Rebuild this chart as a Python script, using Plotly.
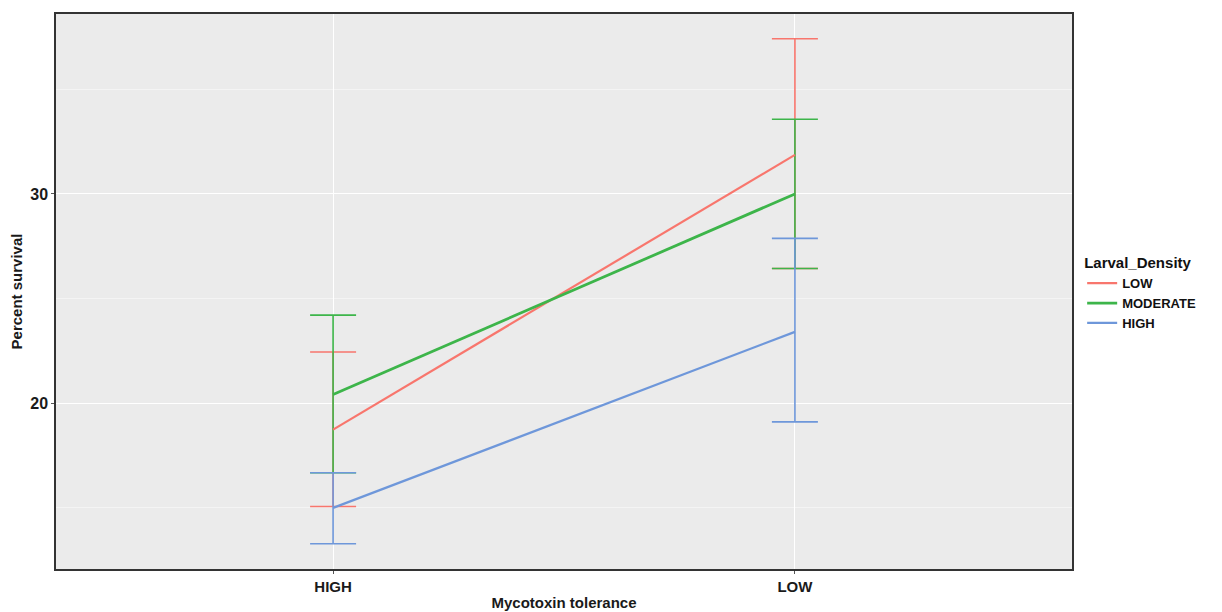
import plotly.graph_objects as go

categories = ["HIGH", "LOW"]
groups = ["LOW", "MODERATE", "HIGH"]
means = {
    "LOW": [18.74, 31.87],
    "MODERATE": [20.42, 30.00],
    "HIGH": [15.00, 23.41],
}
upper = {
    "LOW": [22.45, 37.42],
    "MODERATE": [24.21, 33.57],
    "HIGH": [16.68, 27.88],
}
lower = {
    "LOW": [15.07, 26.44],
    "MODERATE": [16.68, 26.44],
    "HIGH": [13.29, 19.11],
}
colors = {"LOW": "#F8766D", "MODERATE": "#3DB54A", "HIGH": "#6E97DA"}
widths = {"LOW": 2.2, "MODERATE": 2.8, "HIGH": 2.2}

xpos = [1, 2]
fig = go.Figure()

for g in groups:
    m = means[g]
    fig.add_trace(go.Scatter(
        x=xpos, y=m, mode="markers", showlegend=False, hoverinfo="skip",
        marker=dict(size=1, opacity=0),
        error_y=dict(type="data", symmetric=False,
                     array=[u - v for u, v in zip(upper[g], m)],
                     arrayminus=[v - l for v, l in zip(m, lower[g])],
                     color=colors[g], thickness=1.6, width=23),
    ))

for g in groups:
    fig.add_trace(go.Scatter(
        x=xpos, y=means[g], mode="lines", name="<b>%s</b>" % g,
        line=dict(color=colors[g], width=widths[g]),
    ))

font_family = "Liberation Sans, Arial, sans-serif"

fig.update_layout(
    width=1222, height=612,
    margin=dict(l=56, r=150, t=14, b=43),
    paper_bgcolor="white",
    plot_bgcolor="#EBEBEB",
    font=dict(family=font_family, color="#1a1a1a"),
    legend=dict(
        title=dict(text="<b>Larval_Density</b>", font=dict(size=15, color="#111")),
        font=dict(size=13, color="#111"),
        x=1.01, xanchor="left", y=0.496, yanchor="middle",
        bgcolor="rgba(0,0,0,0)", tracegroupgap=0, itemwidth=30,
    ),
    xaxis=dict(
        range=[0.4, 2.6], tickvals=xpos, ticktext=["<b>%s</b>" % c for c in categories],
        tickfont=dict(size=15, color="#1a1a1a"), automargin=False,
        showgrid=True, gridcolor="white", gridwidth=1.2,
        zeroline=False, ticks="outside", ticklen=3, tickcolor="#555",
        showline=True, linecolor="#333", linewidth=1.5, mirror=True,
        title=dict(text="<b>Mycotoxin tolerance</b>", font=dict(size=15, color="#1a1a1a"), standoff=4),
    ),
    yaxis=dict(
        range=[12.08, 38.6], tickvals=[20, 30], ticktext=["<b>20</b>", "<b>30</b>"],
        tickfont=dict(size=16, color="#1a1a1a"), automargin=False,
        showgrid=True, gridcolor="white", gridwidth=1.2,
        minor=dict(tickvals=[15, 25, 35], showgrid=True, gridcolor="#F4F4F4", gridwidth=0.8),
        zeroline=False, ticks="outside", ticklen=3, tickcolor="#555",
        showline=True, linecolor="#333", linewidth=1.5, mirror=True,
        title=dict(text="<b>Percent survival</b>", font=dict(size=15, color="#1a1a1a"), standoff=4),
    ),
)

fig.write_html("out.html", config={"displayModeBar": False},
               post_script="document.body.style.margin='0px';")
